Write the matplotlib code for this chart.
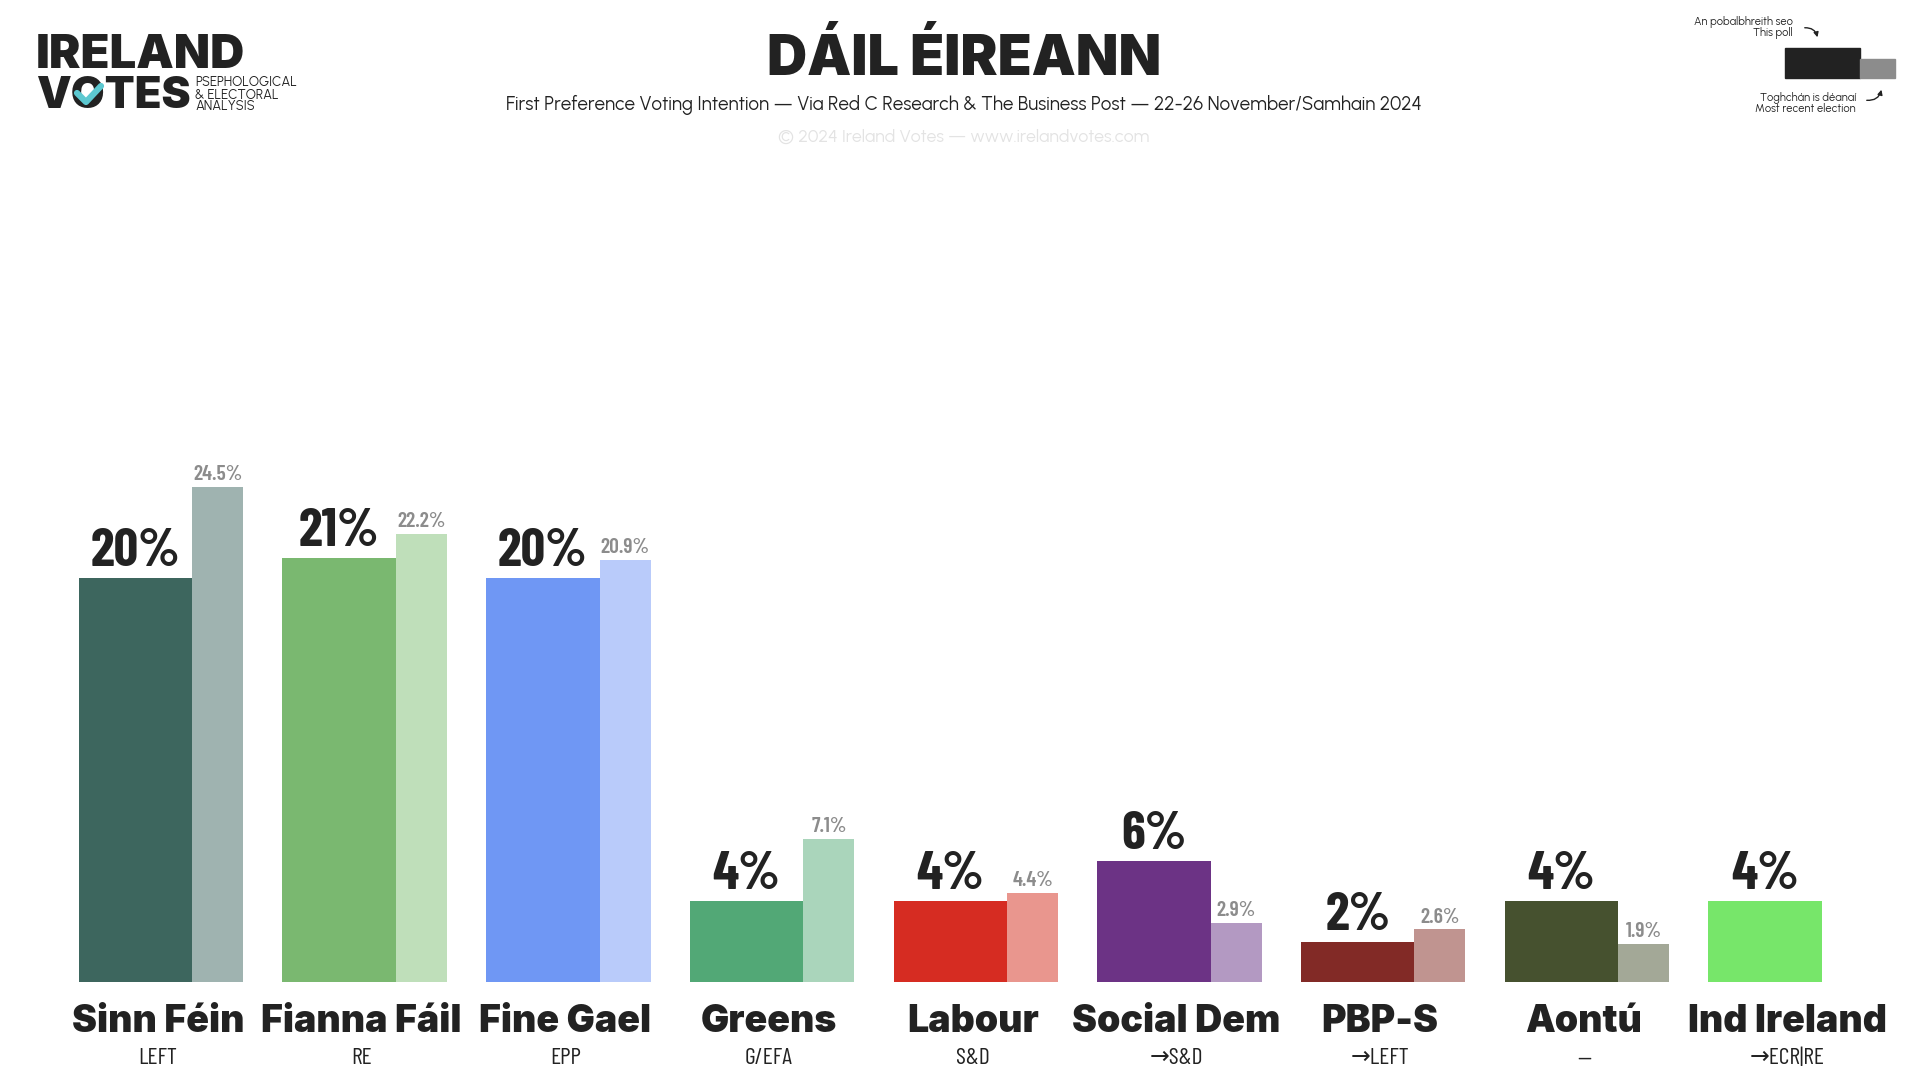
import matplotlib
matplotlib.use("Agg")
import matplotlib.pyplot as plt
from matplotlib.patches import Rectangle, FancyArrowPatch
from matplotlib.lines import Line2D

# Red C / Business Post poll, 22-26 Nov 2024, vs 2020 general election
parties = ["Sinn Féin", "Fianna Fáil", "Fine Gael", "Greens", "Labour",
           "Social Dem", "PBP-S", "Aontú", "Ind Ireland"]
families = ["LEFT", "RE", "EPP", "G/EFA", "S&D", "→S&D", "→LEFT", "—", "→ECR|RE"]
poll = [20, 21, 20, 4, 4, 6, 2, 4, 4]
last_election = [24.5, 22.2, 20.9, 7.1, 4.4, 2.9, 2.6, 1.9, None]
poll_colors = ["#3d665e", "#7ab870", "#6f97f4", "#52a876", "#d62c22",
               "#6c3385", "#822a26", "#46512f", "#77e66a"]
prev_colors = ["#9fb3b0", "#bfdfba", "#b9cbfa", "#aad5bb", "#e9968e",
               "#b399c2", "#c09490", "#a3a897", "#ffffff"]

DARK = "#222222"
HEAVY = ["Inter", "DejaVu Sans"]
NARROW = ["Barlow Condensed", "DejaVu Sans"]
PLAIN = ["Urbanist", "DejaVu Sans"]

W, H = 1920, 1080
fig = plt.figure(figsize=(19.2, 10.8), dpi=100, facecolor="white")


def fy(y):
    # pixel row from top -> figure fraction
    return 1 - y / H


def fx(x):
    return x / W


# --- main bar axes: baseline at y=982px, 20.2 px per percentage point
baseline = 982
px_per_pt = 20.2
ymax = 40
spacing = 203.7
first_center = 135.5
main_w = 113.5 / spacing
prev_w = 51 / spacing

ax = fig.add_axes([0, (H - baseline) / H, 1, ymax * px_per_pt / H])
ax.set_xlim(-first_center / spacing, (W - first_center) / spacing)
ax.set_ylim(0, ymax)
ax.axis("off")

for i, party in enumerate(parties):
    ax.bar(i, poll[i], width=main_w, color=poll_colors[i], align="center")
    ax.annotate(f"{poll[i]}%", xy=(i, poll[i]), xytext=(0, 8.5),
                textcoords="offset points", ha="center", va="baseline",
                fontsize=39, fontweight="bold", family=NARROW, color=DARK)

    prev = last_election[i]
    px = i + main_w / 2 + prev_w / 2
    if prev is not None:
        ax.bar(px, prev, width=prev_w, color=prev_colors[i], align="center")
        ax.annotate(f"{prev}%", xy=(px, prev), xytext=(0, 5),
                    textcoords="offset points", ha="center", va="baseline",
                    fontsize=15.5, fontweight="semibold", family=NARROW,
                    color="#8c8c8c")

    group_center = i + prev_w / 2 - 0.015
    ax.text(group_center, -(1022 - baseline) / px_per_pt, party,
            ha="center", va="center", fontsize=27, fontweight="black",
            family=HEAVY, color=DARK, clip_on=False)
    ax.text(group_center, -(1059 - baseline) / px_per_pt, families[i],
            ha="center", va="center", fontsize=17, family=NARROW,
            color=DARK, clip_on=False)

# --- titles
fig.text(fx(964), fy(59), "DÁIL ÉIREANN", ha="center", va="center",
         fontsize=40, fontweight="black", family=HEAVY, color=DARK)
fig.text(fx(964), fy(105),
         "First Preference Voting Intention — Via Red C Research & The Business Post — 22-26 November/Samhain 2024",
         ha="center", va="center", fontsize=13.5, family=PLAIN, color=DARK)
fig.text(fx(964), fy(137), "© 2024 Ireland Votes — www.irelandvotes.com",
         ha="center", va="center", fontsize=12.7, family=PLAIN, color="#e3e3e3")

# --- logo
fig.text(fx(36), fy(56), "IRELAND", ha="left", va="center",
         fontsize=34, fontweight="black", family=HEAVY, color=DARK)
fig.text(fx(36), fy(97), "VOTES", ha="left", va="center",
         fontsize=31.5, fontweight="black", family=HEAVY, color=DARK)
fig.add_artist(Line2D([fx(77), fx(86), fx(101)], [fy(93), fy(102), fy(86)],
                      color="#5cc8d0", lw=4.5, solid_capstyle="round",
                      zorder=5))
for k, line in enumerate(["PSEPHOLOGICAL", "& ELECTORAL", "ANALYSIS"]):
    fig.text(fx(195), fy(83 + 12 * k), line, ha="left", va="center",
             fontsize=9.5, family=PLAIN, color=DARK)

# --- key (top right)
fig.add_artist(Rectangle((fx(1785), fy(78)), fx(75), 30 / H,
                         color=DARK, transform=fig.transFigure))
fig.add_artist(Rectangle((fx(1860), fy(78)), fx(35), 19 / H,
                         color="#8c8c8c", transform=fig.transFigure))
fig.text(fx(1793), fy(22), "An pobalbhreith seo", ha="right", va="center",
         fontsize=8, family=PLAIN, color=DARK)
fig.text(fx(1793), fy(33), "This poll", ha="right", va="center",
         fontsize=8, family=PLAIN, color=DARK)
fig.text(fx(1856), fy(98), "Toghchán is déanaí", ha="right", va="center",
         fontsize=8, family=PLAIN, color=DARK)
fig.text(fx(1856), fy(109), "Most recent election", ha="right", va="center",
         fontsize=8, family=PLAIN, color=DARK)
fig.add_artist(FancyArrowPatch((fx(1802), fy(28)), (fx(1818), fy(40)),
                               transform=fig.transFigure,
                               connectionstyle="arc3,rad=-0.5",
                               arrowstyle="-|>", mutation_scale=7,
                               color=DARK, lw=1))
fig.add_artist(FancyArrowPatch((fx(1864), fy(100)), (fx(1882), fy(87)),
                               transform=fig.transFigure,
                               connectionstyle="arc3,rad=0.5",
                               arrowstyle="-|>", mutation_scale=7,
                               color=DARK, lw=1))

fig.savefig("out.png", dpi=100, facecolor="white")
